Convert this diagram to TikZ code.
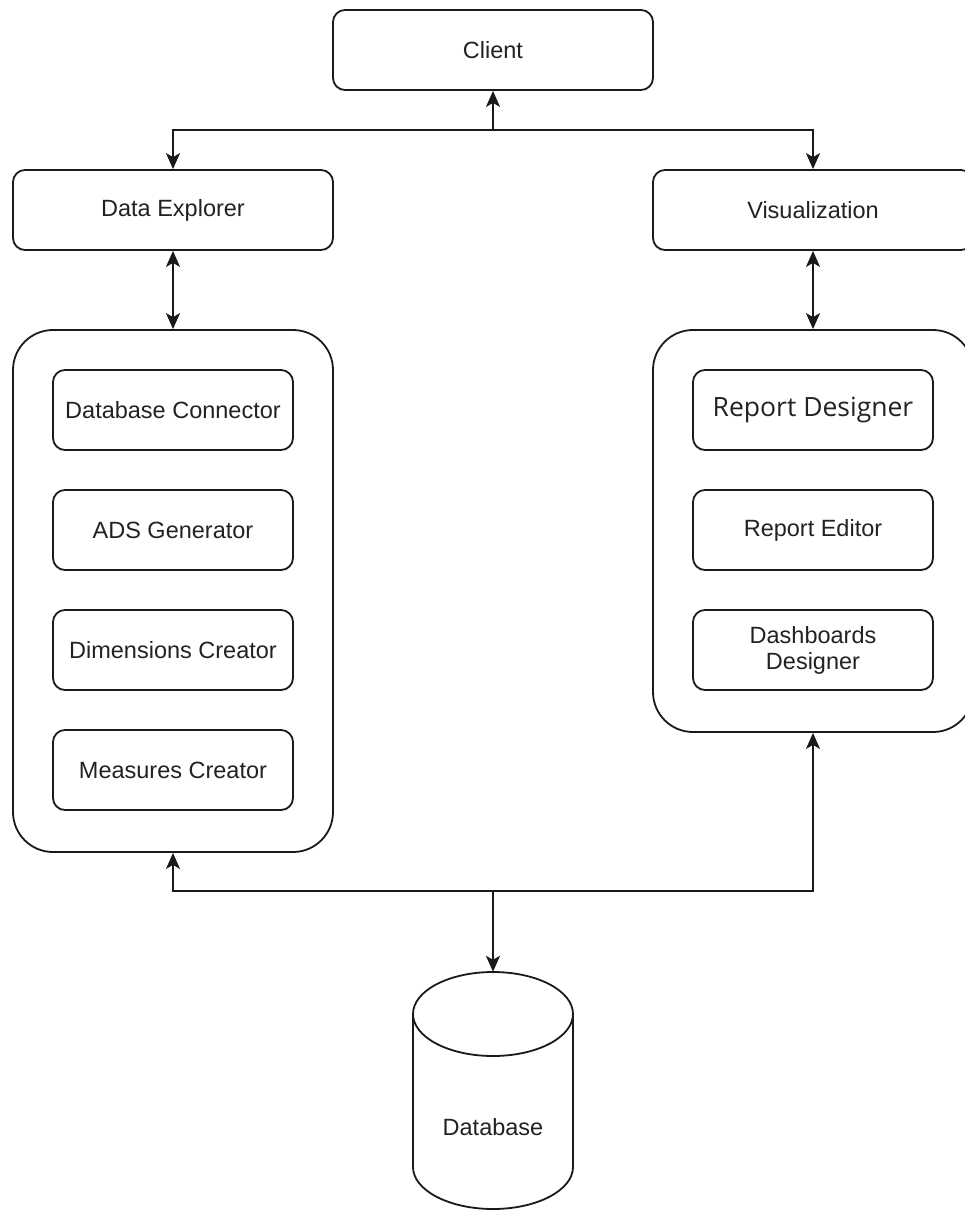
\documentclass[tikz,border=0pt]{standalone}
\usepackage{fontspec}
\setmainfont{Liberation Sans}
\newfontfamily\opensans{Open Sans}
\usetikzlibrary{arrows.meta}

\definecolor{inkline}{RGB}{26,26,26}
\definecolor{inktext}{RGB}{34,34,34}

\tikzset{
  box/.style={draw=inkline, line width=1.8pt, rounded corners=12pt, fill=white,
    minimum width=320pt, minimum height=80pt, inner sep=0pt, align=center,
    text=inktext, font=\fontsize{23.5}{26}\selectfont},
  inbox/.style={box, minimum width=240pt},
  group/.style={draw=inkline, line width=1.8pt, rounded corners=40pt,
    minimum width=320pt, inner sep=0pt},
  tip/.style={Stealth[length=16pt,width=14pt,inset=4pt]},
  arr/.style={draw=inkline, line width=1.8pt, -{Stealth[length=16pt,width=14pt,inset=4pt]}},
  twoway/.style={arr, {Stealth[length=16pt,width=14pt,inset=4pt]}-{Stealth[length=16pt,width=14pt,inset=4pt]}}
}

\begin{document}
\begin{tikzpicture}[x=1pt,y=1pt,yscale=-1]
\useasboundingbox (0,0) rectangle (964,1210);

%Shape: Rounded Rect [Client]
\node [box] (client) at (493,50) {Client};
%Shape: Rounded Rect [Data Explorer]
\node [box] (dex) at (173,210) {Data Explorer};
%Shape: Rounded Rect [Visualization]
\node [box] (vis) at (813,210) {Visualization};

%Shape: Group [left]
\node [group, minimum height=522pt] (dexgroup) at (173,591) {};
%Shape: Group [right]
\node [group, minimum height=402pt] (visgroup) at (813,531) {};

% Inner boxes, left
\node [inbox] (dbconn) at (173,410) {Database Connector};
\node [inbox] (adsgen) at (173,530) {ADS Generator};
\node [inbox] (dimcr) at (173,650) {Dimensions Creator};
\node [inbox] (meascr) at (173,770) {Measures Creator};

% Inner boxes, right
\node [inbox, font=\opensans\fontsize{26.5}{29}\selectfont] (repdes) at (813,410) {Report Designer};
\node [inbox] (repedit) at (813,530) {Report Editor};
\node [inbox] (dashdes) at (813,650) {Dashboards\\Designer};

%Shape: Can [Database]
\draw [draw=inkline, line width=1.8pt, fill=white] (413,1014) -- (413,1167)
  arc [start angle=180, end angle=0, x radius=80, y radius=42] -- (573,1014);
\draw [draw=inkline, line width=1.8pt] (493,1014) ellipse [x radius=80, y radius=42];
\node [minimum width=160pt, minimum height=237pt, inner sep=0pt] (db) at (493,1090.5) {};
\node [text=inktext, font=\fontsize{23.5}{26}\selectfont, inner sep=0pt] (dblabel) at (493,1127) {Database};

% Connectors
\coordinate (jtop) at (493,130);
\coordinate (jbot) at (493,891);
\draw [arr] (jtop) -- (client);
\draw [arr] (jtop) -| (dex);
\draw [arr] (jtop) -| (vis);
\draw [twoway] (dex) -- (dexgroup);
\draw [twoway] (vis) -- (visgroup);
\draw [arr] (jbot) -| (dexgroup.south);
\draw [arr] (jbot) -| (visgroup.south);
\draw [arr] (jbot) -- (db.north);

\end{tikzpicture}
\end{document}
